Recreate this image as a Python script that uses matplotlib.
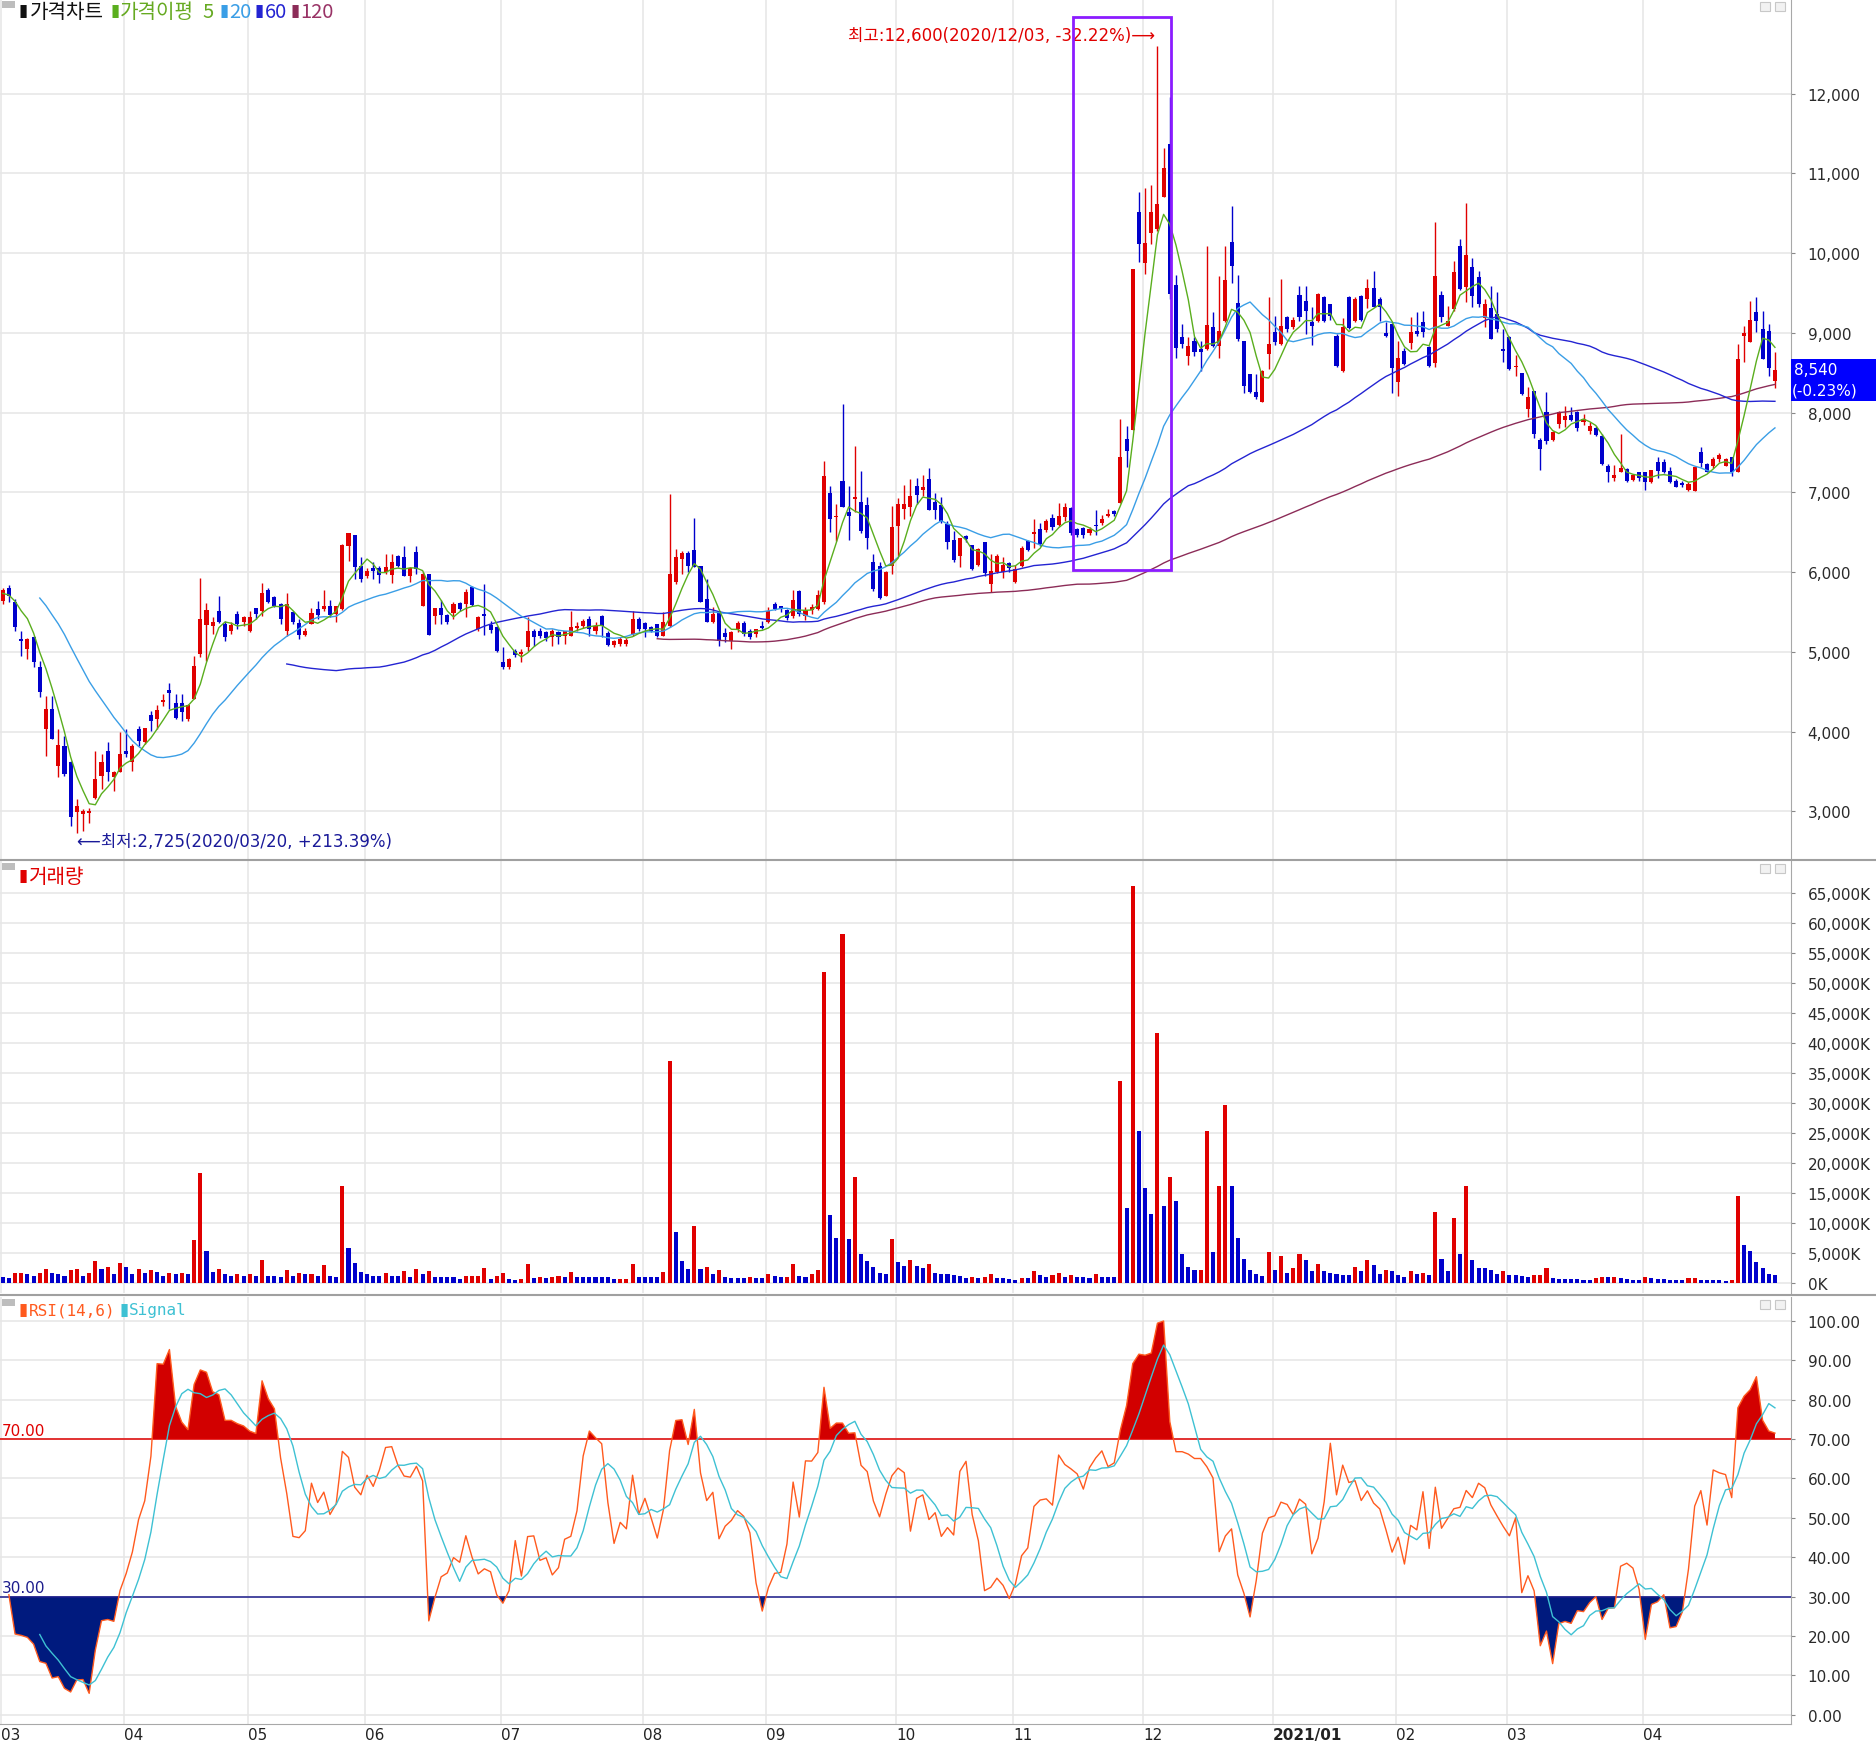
import numpy as np
import pandas as pd
import matplotlib
matplotlib.use('Agg')
import matplotlib.pyplot as plt
from matplotlib.patches import Rectangle
from matplotlib.lines import Line2D
from matplotlib.transforms import IdentityTransform

plt.rcParams['font.family'] = ['Noto Sans CJK KR', 'DejaVu Sans']

# month axis (trading days per month, Mar 2020 .. Apr 2021)
month_labels = ['03', '04', '05', '06', '07', '08', '09', '10', '11', '12', '2021/01', '02', '03', '04']
month_days = [20, 20, 19, 22, 23, 20, 21, 19, 21, 21, 20, 18, 22, 22]

# closes before the visible window (only feed the moving averages / RSI)
prior_closes = [6180, 6230, 6090, 6120, 5980, 6010, 5870, 5920, 5760, 5810, 5700, 5740, 5650]

opens = [
    5640, 5800, 5620, 5160, 5036, 5190, 4806, 4033, 4280, 3573,
    3824, 3615, 2988, 2967, 2980, 3163, 3448, 3760, 3427, 3490,
    3760, 3615, 4033, 3866, 4213, 4158, 4375, 4526, 4355, 4360,
    4158, 4410, 4973, 5337, 5328, 5508, 5349, 5266, 5475, 5370,
    5260, 5546, 5517, 5776, 5684, 5600, 5266, 5496, 5358, 5211,
    5349, 5537, 5537, 5579, 5475, 5537, 6323, 6465, 6080, 5955,
    6047, 6047, 5997, 5964, 6206, 6185, 5955, 6248, 5579, 5976,
    5454, 5546, 5462, 5487, 5613, 5600, 5810, 5287, 5475, 5337,
    5308, 4877, 4806, 5015, 4973, 5057, 5266, 5266, 5253, 5182,
    5245, 5203, 5203, 5295, 5320, 5412, 5266, 5454, 5236, 5086,
    5098, 5098, 5224, 5412, 5358, 5308, 5349, 5203, 5328, 5872,
    6164, 6240, 6281, 6072, 5663, 5370, 5516, 5236, 5140, 5287,
    5362, 5266, 5224, 5328, 5370, 5600, 5570, 5530, 5450, 5760,
    5450, 5520, 5540, 5621, 6992, 6687, 7146, 6750, 6916, 6883,
    6841, 6122, 6081, 5705, 6081, 6582, 6791, 6812, 7075, 7029,
    7167, 6883, 6841, 6603, 6407, 6206, 6457, 6340, 6089, 6373,
    5851, 5997, 6005, 6114, 5880, 6081, 6386, 6476, 6538, 6529,
    6673, 6597, 6687, 6798, 6538, 6552, 6485, 6597, 6610, 6709,
    6763, 6866, 7673, 7785, 10511, 9870, 10251, 10296, 10700, 11372,
    9601, 8942, 8704, 8900, 8797, 8797, 9069, 8839, 9152, 10143,
    9374, 8902, 8484, 8262, 8137, 8734, 9006, 8860, 9194, 9069,
    9474, 9403, 9131, 9152, 9445, 9361, 8964, 8525, 9445, 9152,
    9466, 9424, 9558, 9424, 8998, 9110, 8379, 8776, 8872, 9027,
    9140, 8818, 8621, 9474, 9090, 9298, 10084, 9570, 9821, 9700,
    9182, 9307, 9236, 8798, 8944, 8567, 8496, 8045, 8275, 7660,
    8003, 7660, 7857, 7911, 7970, 8011, 7878, 7773, 7803, 7711,
    7334, 7176, 7251, 7293, 7155, 7260, 7260, 7126, 7377, 7377,
    7272, 7147, 7117, 7034, 7021, 7502, 7356, 7326, 7418, 7335,
    7439, 7251, 8956, 8889, 9257, 9048, 9027, 8400,
]

highs = [
    5800, 5840, 5660, 5265, 5180, 5200, 4890, 4450, 4450, 4033,
    3950, 3635, 3155, 3030, 3040, 3760, 3720, 3874, 3510, 3990,
    4030, 3845, 4075, 4040, 4263, 4340, 4470, 4605, 4470, 4470,
    4346, 4944, 5922, 5608, 5433, 5696, 5391, 5378, 5517, 5454,
    5510, 5554, 5864, 5797, 5700, 5608, 5738, 5517, 5412, 5295,
    5546, 5642, 5775, 5654, 5579, 6352, 6490, 6465, 6185, 6050,
    6122, 6080, 6227, 6227, 6210, 6323, 6060, 6323, 5997, 5976,
    5546, 5654, 5470, 5629, 5629, 5788, 5822, 5445, 5851, 5391,
    5320, 5057, 4920, 5036, 5036, 5433, 5287, 5295, 5266, 5287,
    5266, 5266, 5516, 5370, 5412, 5445, 5370, 5462, 5266, 5150,
    5182, 5170, 5516, 5433, 5370, 5328, 5349, 5504, 6979, 6290,
    6269, 6269, 6674, 6072, 5913, 5558, 5516, 5299, 5266, 5391,
    5391, 5287, 5287, 5391, 5558, 5620, 5580, 5540, 5775, 5770,
    5560, 5600, 5770, 7397, 7083, 6854, 8108, 7076, 7577, 7272,
    6937, 6227, 6131, 6010, 6833, 6925, 7092, 7167, 7176, 7217,
    7301, 6992, 6937, 6645, 6520, 6428, 6465, 6340, 6299, 6382,
    6227, 6227, 6185, 6131, 6089, 6330, 6400, 6664, 6611, 6664,
    6730, 6866, 6866, 6821, 6555, 6570, 6560, 6776, 6720, 6790,
    6776, 7920, 7830, 9794, 10767, 10812, 10857, 12600, 11318, 11955,
    9722, 9108, 8951, 8951, 8902, 10084, 9257, 9708, 10084, 10594,
    9725, 8902, 8484, 8484, 8530, 9445, 9215, 9675, 9215, 9194,
    9583, 9591, 9319, 9500, 9458, 9361, 8985, 9181, 9458, 9445,
    9474, 9675, 9779, 9445, 9131, 9123, 8902, 8805, 9194, 9265,
    9278, 8830, 10385, 9529, 9332, 9904, 10176, 10627, 9934, 9780,
    9424, 9583, 9516, 9048, 8965, 8722, 8496, 8316, 8275, 7677,
    8254, 7773, 8024, 8078, 8066, 8020, 7982, 7878, 7836, 7731,
    7355, 7343, 7732, 7301, 7230, 7260, 7260, 7285, 7440, 7418,
    7314, 7167, 7147, 7126, 7314, 7565, 7368, 7440, 7493, 7427,
    7439, 8860, 9090, 9403, 9445, 9278, 9110, 8764,
]

lows = [
    5600, 5630, 5265, 4950, 4910, 4806, 4430, 3700, 3907, 3427,
    3447, 2820, 2725, 2760, 2860, 3155, 3280, 3385, 3260, 3490,
    3680, 3510, 3824, 3845, 4010, 4033, 4317, 4283, 4158, 4137,
    4137, 4410, 4931, 4890, 5224, 5362, 5140, 5224, 5287, 5328,
    5245, 5412, 5454, 5613, 5560, 5350, 5203, 5350, 5161, 5203,
    5349, 5412, 5516, 5433, 5370, 5529, 6143, 5914, 5872, 5930,
    5914, 5864, 5976, 5864, 6060, 5955, 5872, 5976, 5579, 5211,
    5350, 5350, 5350, 5412, 5517, 5433, 5579, 5266, 5211, 5237,
    5003, 4785, 4785, 4931, 4877, 5015, 5078, 5170, 5140, 5078,
    5098, 5098, 5195, 5266, 5295, 5203, 5224, 5182, 5078, 5060,
    5078, 5078, 5203, 5266, 5182, 5245, 5182, 5195, 5308, 5851,
    5976, 6005, 6060, 5620, 5370, 5362, 5078, 5120, 5036, 5245,
    5203, 5161, 5182, 5287, 5362, 5520, 5500, 5400, 5430, 5450,
    5400, 5480, 5530, 5600, 6499, 6394, 6812, 6407, 6750, 6490,
    6290, 5768, 5663, 5700, 5976, 6206, 6666, 6708, 6854, 6958,
    6783, 6666, 6616, 6290, 6131, 6060, 6382, 6026, 6081, 5955,
    5747, 5989, 5922, 5997, 5864, 6060, 6260, 6305, 6330, 6507,
    6530, 6575, 6642, 6462, 6440, 6430, 6462, 6462, 6597, 6687,
    6709, 6866, 7314, 7785, 9893, 9740, 10108, 10273, 10700, 9422,
    8682, 8816, 8592, 8714, 8525, 8789, 8818, 8680, 9131, 9625,
    8902, 8245, 8245, 8170, 8130, 8546, 8847, 8847, 9006, 9048,
    9152, 8985, 8847, 9140, 9131, 9165, 8567, 8513, 9048, 9140,
    9152, 9307, 9319, 9152, 8943, 8245, 8212, 8597, 8797, 8964,
    8943, 8567, 8567, 9140, 9081, 9278, 9541, 9382, 9319, 9320,
    9069, 8923, 9006, 8630, 8538, 8463, 8220, 7940, 7677, 7285,
    7606, 7648, 7803, 7815, 7899, 7773, 7844, 7732, 7710, 7343,
    7134, 7146, 7251, 7134, 7140, 7146, 7034, 7117, 7176, 7243,
    7117, 7063, 7063, 7021, 7021, 7314, 7251, 7301, 7385, 7326,
    7209, 7251, 8630, 8881, 9006, 8672, 8463, 8304,
]

closes = [
    5770, 5705, 5307, 5140, 5160, 4870, 4493, 4280, 3907, 3833,
    3470, 2925, 3071, 3009, 3010, 3405, 3615, 3490, 3490, 3720,
    3720, 3824, 3886, 4040, 4137, 4276, 4400, 4484, 4166, 4242,
    4334, 4827, 5412, 5525, 5378, 5378, 5182, 5337, 5349, 5433,
    5440, 5475, 5738, 5629, 5579, 5412, 5600, 5370, 5211, 5266,
    5487, 5462, 5571, 5462, 5571, 6340, 6490, 6060, 5914, 6018,
    6018, 5964, 6060, 6131, 6081, 5955, 6047, 6039, 5976, 5211,
    5546, 5462, 5370, 5600, 5537, 5755, 5588, 5433, 5454, 5278,
    5015, 4806, 4910, 4960, 4994, 5266, 5182, 5203, 5170, 5266,
    5182, 5266, 5308, 5328, 5391, 5287, 5328, 5328, 5086, 5140,
    5161, 5153, 5412, 5287, 5287, 5266, 5203, 5378, 5976, 6185,
    6240, 6072, 6060, 5630, 5370, 5474, 5140, 5182, 5253, 5362,
    5224, 5182, 5287, 5295, 5516, 5537, 5537, 5420, 5650, 5480,
    5520, 5560, 5717, 7201, 6666, 6708, 6812, 6700, 6937, 6520,
    6424, 5788, 5671, 5997, 6561, 6854, 6854, 6958, 6967, 7071,
    6783, 6783, 6645, 6373, 6156, 6424, 6415, 6039, 6290, 5989,
    6018, 6206, 6089, 6047, 6039, 6305, 6283, 6507, 6359, 6642,
    6565, 6709, 6821, 6485, 6462, 6470, 6538, 6583, 6664, 6731,
    6735, 7449, 7516, 9794, 10108, 10120, 10511, 10619, 11067, 9489,
    8816, 8861, 8839, 8760, 8764, 9098, 8839, 9027, 9666, 9842,
    8922, 8337, 8254, 8191, 8525, 8860, 8881, 9090, 9048, 9161,
    9194, 9278, 9081, 9487, 9152, 9215, 8588, 9069, 9056, 9424,
    9165, 9558, 9319, 9319, 8964, 8555, 8680, 8609, 9006, 8985,
    9006, 8588, 9708, 9194, 9152, 9758, 9549, 9976, 9466, 9360,
    9362, 8923, 9048, 8773, 8546, 8588, 8233, 8191, 7732, 7543,
    7648, 7761, 8003, 7961, 7911, 7803, 7920, 7836, 7719, 7355,
    7251, 7218, 7301, 7147, 7218, 7176, 7126, 7285, 7272, 7251,
    7126, 7063, 7092, 7105, 7314, 7368, 7260, 7418, 7468, 7418,
    7251, 8672, 8998, 9165, 9153, 8672, 8560, 8540,
]

# volume in thousands of shares
volumes = [
    870, 850, 1640, 1650, 1420, 1090, 1640, 2350, 1640, 1420,
    1090, 2180, 2350, 1090, 1640, 3600, 2350, 2620, 1420, 3330,
    2620, 1420, 2350, 1640, 2180, 1800, 1090, 1640, 1420, 1640,
    1420, 7100, 18350, 5350, 1800, 2350, 1420, 1090, 1420, 1090,
    1420, 1090, 3820, 1090, 1050, 1000, 2070, 1090, 1640, 1420,
    1450, 1090, 2890, 1090, 980, 16160, 5790, 3330, 1800, 1420,
    1090, 1050, 1640, 1090, 1050, 1970, 980, 2350, 1420, 1970,
    980, 950, 930, 900, 550, 1090, 1100, 1120, 2510, 550,
    1090, 1640, 550, 530, 560, 3060, 710, 980, 710, 980,
    1090, 870, 1800, 980, 960, 940, 920, 900, 880, 550,
    560, 570, 3060, 980, 960, 940, 920, 1800, 37020, 8520,
    3600, 2350, 9450, 2350, 2620, 1420, 2070, 870, 850, 830,
    810, 870, 850, 830, 1420, 1090, 980, 990, 3060, 1090,
    870, 1420, 2070, 51760, 11250, 7530, 58040, 7260, 17640, 4800,
    3600, 2620, 1640, 1420, 7300, 3440, 2730, 3710, 2730, 2510,
    3170, 1640, 1420, 1400, 1200, 1190, 710, 980, 710, 980,
    1420, 710, 700, 690, 440, 710, 700, 1970, 1260, 980,
    1260, 1640, 980, 1200, 980, 970, 710, 1420, 980, 970,
    960, 33630, 12450, 66070, 25280, 15720, 11520, 41660, 12720, 17640,
    13540, 4800, 2620, 2180, 2190, 25280, 5080, 16160, 29650, 16160,
    7370, 3880, 2180, 1420, 1090, 5080, 2180, 4370, 1640, 2510,
    4800, 3710, 1970, 3170, 1970, 1640, 1420, 1300, 1250, 2620,
    1970, 3710, 2890, 1420, 2180, 1970, 1260, 980, 1970, 1420,
    1640, 1200, 11740, 3880, 1970, 10810, 4700, 16160, 3710, 2510,
    2400, 2070, 1420, 1970, 1260, 1200, 1090, 980, 1200, 1250,
    2510, 710, 680, 650, 620, 600, 440, 420, 710, 980,
    870, 980, 710, 550, 440, 420, 980, 710, 680, 650,
    440, 420, 400, 710, 720, 440, 420, 400, 380, 360,
    440, 14470, 6330, 5350, 3440, 2510, 1370, 1260,
]

high_date = '2020/12/03'
low_date = '2020/03/20'

# ---- styling ----
RED = '#E00000'
BLUE = '#0000CC'
GRID = '#E6E6E6'
MA_COLORS = {5: '#5AAE1E', 20: '#3A9EE6', 60: '#2424D2', 120: '#8C2C58'}
NUM_FONT = ['DejaVu Sans', 'Noto Sans CJK KR']

W, H = 1876, 1749
fig = plt.figure(figsize=(W / 100, H / 100), dpi=100)


def px_box(x0, y0, x1, y1):
    return [x0 / W, 1 - y1 / H, (x1 - x0) / W, (y1 - y0) / H]


ax_p = fig.add_axes(px_box(0, 0, 1791, 860))
ax_v = fig.add_axes(px_box(0, 862, 1791, 1294))
ax_r = fig.add_axes(px_box(0, 1298, 1791, 1725))

o = np.array(opens, float)
h = np.array(highs, float)
l = np.array(lows, float)
c = np.array(closes, float)
v = np.array(volumes, float)
n = len(c)
x = np.arange(n)

allc = pd.Series(prior_closes + closes, dtype=float)
k = len(prior_closes)
mas = {p: allc.rolling(p).mean().values[k:] for p in (5, 20, 60, 120)}
d = allc.diff()
au = d.clip(lower=0).rolling(14).mean()
ad = (-d.clip(upper=0)).rolling(14).mean()
rsi_all = 100 * au / (au + ad)
rsi = rsi_all.values[k:]
sig = rsi_all.rolling(6).mean().values[k:]

starts = np.cumsum([0] + month_days[:-1])
grid_x = starts - 0.35

for ax in (ax_p, ax_v, ax_r):
    ax.set_xlim(-0.44, 289.6)
    ax.set_xticks(grid_x)
    ax.tick_params(axis='x', length=0, labelbottom=False)
    ax.yaxis.tick_right()
    ax.tick_params(axis='y', length=3, width=0.8, color='#888888', pad=9,
                   labelsize=11, labelcolor='#2A2A2A')
    ax.grid(True, color=GRID, lw=1.1, zorder=0)
    ax.set_axisbelow(True)
    for s in ('left', 'top', 'bottom'):
        ax.spines[s].set_visible(False)
    ax.spines['right'].set_color('#A8A8A8')

# ---- price panel ----
ax_p.set_ylim(2404, 13185)
pt = np.arange(3000, 12001, 1000)
ax_p.set_yticks(pt)
ax_p.set_yticklabels([f'{t:,}' for t in pt], family='DejaVu Sans')

up = c >= o
col = np.where(up, RED, BLUE)
ax_p.vlines(x, l, h, colors=col, lw=1.0, zorder=3)
ax_p.bar(x, np.maximum(np.abs(c - o), 14), bottom=np.minimum(o, c), width=0.66,
         color=col, lw=0, zorder=4)
for p in (120, 60, 20, 5):
    ax_p.plot(x, mas[p], color=MA_COLORS[p], lw=1.0, zorder=5)

hi_i = int(np.argmax(h))
lo_i = int(np.argmin(l))
hi_txt = f'최고:{int(h[hi_i]):,}({high_date}, {(c[-1] / h[hi_i] - 1) * 100:+.2f}%)⟶'
lo_txt = f'⟵최저:{int(l[lo_i]):,}({low_date}, {(c[-1] / l[lo_i] - 1) * 100:+.2f}%)'
ax_p.annotate(hi_txt, xy=(hi_i, h[hi_i]), xytext=(-2, 11), textcoords='offset pixels',
              ha='right', va='center', color=RED, fontsize=12, family=NUM_FONT)
ax_p.annotate(lo_txt, xy=(lo_i, l[lo_i]), xytext=(0, -8), textcoords='offset pixels',
              ha='left', va='center', color='#1A1A99', fontsize=12, family=NUM_FONT)

# highlight box around the Dec spike
box_x0, box_x1, box_y0, box_y1 = 173.4, 189.2, 6027, 12959
ax_p.add_patch(Rectangle((box_x0, box_y0), box_x1 - box_x0, box_y1 - box_y0, fill=False,
                         edgecolor='#8B1CFF', lw=2.0, zorder=6))

# last price tag on the axis
yp = ax_p.transData.transform((0, c[-1]))[1]
fig.add_artist(Rectangle((1791, yp - 31.5), 85, 42, transform=IdentityTransform(),
                         facecolor='#0000FF', edgecolor='none', zorder=1))
pct = (c[-1] / c[-2] - 1) * 100
fig.text(1794 / W, yp / H, f'{int(c[-1]):,}', color='white', ha='left', va='center',
         fontsize=11, family='DejaVu Sans', zorder=5)
fig.text(1792 / W, (yp - 20) / H, f'({pct:.2f}%)', color='white', ha='left', va='center',
         fontsize=11, family='DejaVu Sans', zorder=5)

# ---- volume panel ----
ax_v.set_ylim(-1717, 70283)
vt = np.arange(0, 65001, 5000)
ax_v.set_yticks(vt)
ax_v.set_yticklabels([f'{t:,}K' for t in vt], family='DejaVu Sans')
vcol = [BLUE] + [RED if v[i] >= v[i - 1] else BLUE for i in range(1, n)]
ax_v.bar(x, v, width=0.66, color=vcol, lw=0, zorder=3)

# ---- RSI panel ----
ax_r.set_ylim(-2.39, 106.1)
rt = np.arange(0, 101, 10)
ax_r.set_yticks(rt)
ax_r.set_yticklabels([f'{t:.2f}' for t in rt], family='DejaVu Sans')
ax_r.fill_between(x, rsi, 70, where=rsi >= 70, interpolate=True, color='#D20000', lw=0, zorder=2)
ax_r.fill_between(x, rsi, 30, where=rsi <= 30, interpolate=True, color='#001A7E', lw=0, zorder=2)
ax_r.axhline(70, color='#E00000', lw=1.1, zorder=3)
ax_r.axhline(30, color='#1C1C8C', lw=1.1, zorder=3)
ax_r.plot(x, rsi, color='#FF5A1E', lw=1.0, zorder=4)
ax_r.plot(x, sig, color='#3EC1D3', lw=1.0, zorder=4)
yr = ax_r.get_yaxis_transform()
ax_r.text(0.001, 70.3, '70.00', transform=yr, color=RED, fontsize=11, va='bottom',
          family='DejaVu Sans')
ax_r.text(0.001, 30.3, '30.00', transform=yr, color='#1C1C8C', fontsize=11, va='bottom',
          family='DejaVu Sans')
ax_r.spines['bottom'].set_visible(True)
ax_r.spines['bottom'].set_color('#A8A8A8')

xr = ax_r.get_xaxis_transform()
for gx, lab in zip(grid_x, month_labels):
    ax_r.text(max(gx, -0.2), -0.006, lab, transform=xr, ha='left', va='top', fontsize=11,
              family='DejaVu Sans', fontweight='bold' if '/' in lab else 'normal',
              color='#222222', clip_on=False)

# ---- panel separators, corner icons and legends ----
for ysep in (861, 1296):
    fig.add_artist(Line2D([0, 1], [1 - ysep / H] * 2, transform=fig.transFigure,
                          color='#A0A0A0', lw=1.5))


def ftxt(xpx, ypx, s, color, size=14.5, **kw):
    fig.text(xpx / W, 1 - ypx / H, s, color=color, ha='left', va='center', fontsize=size, **kw)


for ytop in (2, 864, 1300):
    fig.add_artist(Rectangle((2, H - ytop - 7), 13, 7, transform=IdentityTransform(),
                             facecolor='#BDBDBD', edgecolor='none'))
    for xi in (1760, 1775):
        fig.add_artist(Rectangle((xi, H - ytop - 10), 10, 9, transform=IdentityTransform(),
                                 facecolor='#F2F2F2', edgecolor='#C8C8C8', lw=0.8))

ftxt(18, 12, '▮', '#111111', 12)
ftxt(30, 13, '가격차트', '#111111')
ftxt(110, 12, '▮', MA_COLORS[5], 12)
ftxt(120, 13, '가격이평', '#66AA22')
ftxt(202, 13, '5', '#66AA22')
ftxt(219, 12, '▮', MA_COLORS[20], 12)
ftxt(229, 13, '20', MA_COLORS[20])
ftxt(254, 12, '▮', MA_COLORS[60], 12)
ftxt(265, 13, '60', MA_COLORS[60])
ftxt(291, 12, '▮', MA_COLORS[120], 12)
ftxt(300, 13, '120', '#993366')

ftxt(18, 877, '▮', RED, 12)
ftxt(29, 878, '거래량', RED)

ftxt(18, 1311, '▮', '#FF5A1E', 12)
ftxt(29, 1311, 'RSI(14,6)', '#FF5A1E', 11.5, family='DejaVu Sans Mono')
ftxt(119, 1311, '▮', '#3EC1D3', 12)
ftxt(129, 1311, 'Signal', '#3EC1D3', 11.5, family='DejaVu Sans Mono')

fig.savefig('out.png', dpi=100, facecolor='white')
